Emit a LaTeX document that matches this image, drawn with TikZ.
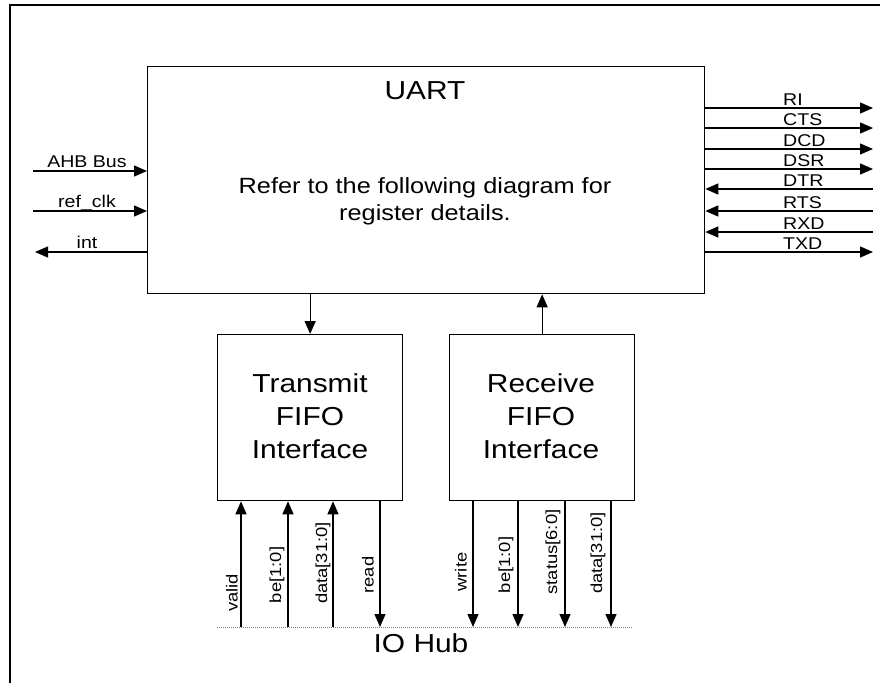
\documentclass[tikz,border=0pt]{standalone}
\usepackage{fontspec}
\setmainfont[FakeStretch=1.15]{Liberation Sans}
\usetikzlibrary{arrows.meta}
\begin{document}
\begin{tikzpicture}[x=1pt,y=-1pt,
  box/.style={draw, line width=1.3pt, anchor=north west, inner sep=0pt},
  arr/.style={line width=1.3pt, -{Triangle[length=13pt,width=11pt]}},
  sig/.style={font=\fontsize{17}{19}\selectfont, inner sep=0pt},
  vlab/.style={font=\fontsize{16}{18}\selectfont, rotate=90, inner sep=0pt},
  ttl/.style={font=\fontsize{26}{33}\selectfont, align=center, inner sep=0pt},
  body/.style={font=\fontsize{22}{27}\selectfont, align=center, inner sep=0pt}]
\useasboundingbox (0,0) rectangle (880,683);
\draw[line width=1.5pt] (10,683) -- (10,5) -- (880,5);

% blocks
\node[box, minimum width=557pt, minimum height=227pt] (uart) at (147,66) {};
\node[box, minimum width=185pt, minimum height=166pt] (tx) at (217,334) {};
\node[box, minimum width=185pt, minimum height=166pt] (rx) at (449,334) {};

\node[ttl] (uartT) at (425,91) {UART};
\node[body] (uartB) at (425,201) {Refer to the following diagram for\\register details.};
\node[ttl] (txT) at (310,416) {Transmit\\FIFO\\Interface};
\node[ttl] (rxT) at (541,416) {Receive\\FIFO\\Interface};

% uart <-> fifos
\draw[arr] (uart.south -| tx.north) -- (tx.north);
\draw[arr] (rx.north) -- (rx.north |- uart.south);

% right side signals
\foreach \i/\y/\t/\d in {1/108/RI/o, 2/128/CTS/o, 3/149/DCD/o, 4/169/DSR/o,
                         5/189/DTR/i, 6/211/RTS/i, 7/232/RXD/i, 8/252/TXD/o}{
  \coordinate (r\i) at (873,\y);
  \node[sig, anchor=base west] (rl\i) at (783,\y-3) {\t};
  \if o\d
    \draw[arr] (uart.east |- r\i) -- (r\i);
  \else
    \draw[arr] (r\i) -- (uart.east |- r\i);
  \fi
}

% left side signals
\coordinate (l1) at (33,171);
\coordinate (l2) at (33,211);
\coordinate (l3) at (35,252);
\draw[arr] (l1) -- (l1 -| uart.west);
\draw[arr] (l2) -- (l2 -| uart.west);
\draw[arr] (l3 -| uart.west) -- (l3);
\node[sig, anchor=base] (ll1) at (87,167) {AHB Bus};
\node[sig, anchor=base] (ll2) at (87,207) {ref\_clk};
\node[sig, anchor=base] (ll3) at (87,248) {int};

% IO hub
\coordinate (hubL) at (217,627);
\coordinate (hubR) at (632,627);
\draw[gray, line width=1pt, densely dotted] (hubL) -- (hubR);
\node[ttl] (hub) at (421,643) {IO Hub};

% transmit side bus signals
\foreach \i/\x in {1/241, 2/288, 3/333}{
  \coordinate (t\i) at (\x,627);
  \draw[arr] (t\i) -- (t\i |- tx.south);
}
\coordinate (t4) at (380,627);
\draw[arr] (t4 |- tx.south) -- (t4);

% receive side bus signals
\foreach \i/\x in {1/473, 2/518, 3/565, 4/611}{
  \coordinate (q\i) at (\x,627);
  \draw[arr] (q\i |- rx.south) -- (q\i);
}

% vertical labels
\node[vlab] (v1) at (232,593) {valid};
\node[vlab] (v2) at (277,575) {be[1:0]};
\node[vlab] (v3) at (323,563) {data[31:0]};
\node[vlab] (v4) at (368,575) {read};
\node[vlab] (v5) at (461,572) {write};
\node[vlab] (v6) at (506,565) {be[1:0]};
\node[vlab] (v7) at (553,552) {status[6:0]};
\node[vlab] (v8) at (598,553) {data[31:0]};
\end{tikzpicture}
\end{document}
